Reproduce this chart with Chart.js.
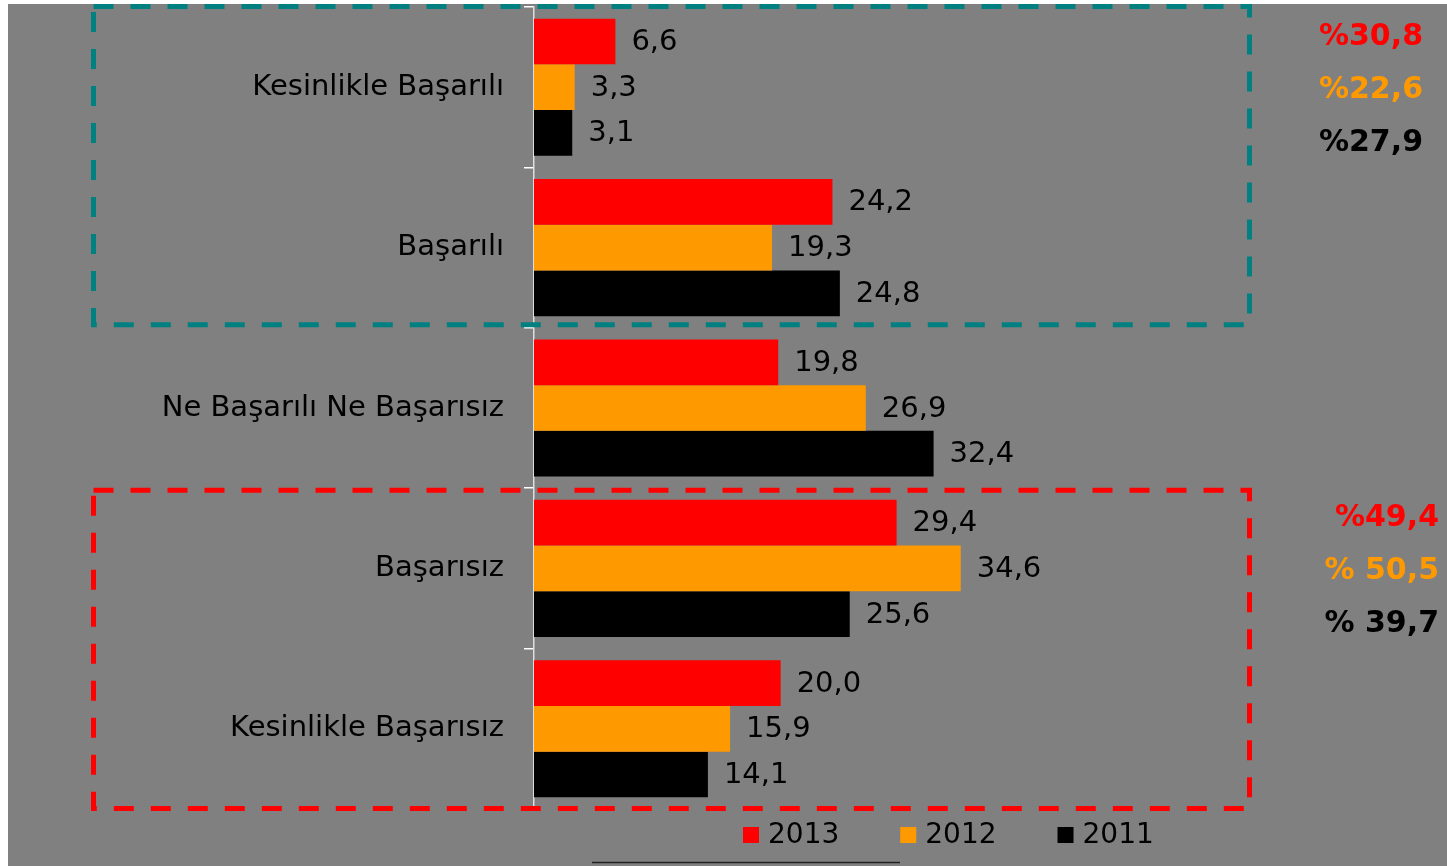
<!DOCTYPE html>
<html>
<head>
<meta charset="utf-8">
<script src="https://cdn.jsdelivr.net/npm/chart.js@4/dist/chart.umd.min.js"></script>
<style>
  html, body { margin: 0; padding: 0; background: #ffffff; width: 1447px; height: 866px; overflow: hidden; }
  #wrap { position: absolute; left: 8px; top: 4px; width: 1439px; height: 862px; background: #808080; }
  canvas { display: block; }
</style>
</head>
<body>
<div id="wrap"><canvas id="c"></canvas></div>
<script>
const categories = ["Kesinlikle Başarılı", "Başarılı", "Ne Başarılı Ne Başarısız", "Başarısız", "Kesinlikle Başarısız"];
const seriesNames = ["2013", "2012", "2011"];
const values2013 = [6.6, 24.2, 19.8, 29.4, 20.0];
const values2012 = [3.3, 19.3, 26.9, 34.6, 15.9];
const values2011 = [3.1, 24.8, 32.4, 25.6, 14.1];
const seriesColors = ["#ff0000", "#ff9900", "#000000"];
// groups summed on the right side (positive: categories 0+1, negative: 3+4)
const topGroup = [0, 1];
const bottomGroup = [3, 4];
const topPrefixes = ["%", "%", "%"];
const bottomPrefixes = ["%", "% ", "% "];

const FONT = "'DejaVu Sans', Verdana, sans-serif";
const fmt = v => v.toFixed(1).replace('.', ',');

const overlay = {
  id: 'overlay',
  afterDatasetsDraw(chart) {
    const ctx = chart.ctx;
    const y = chart.scales.y;
    const area = chart.chartArea;
    const band = (area.bottom - area.top) / categories.length;
    ctx.save();
    // value labels
    ctx.font = "29px " + FONT;
    ctx.fillStyle = "#000";
    ctx.textAlign = "left";
    ctx.textBaseline = "middle";
    chart.data.datasets.forEach((ds, di) => {
      chart.getDatasetMeta(di).data.forEach((bar, i) => {
        ctx.fillText(fmt(ds.data[i]), bar.x + 16, bar.y + 1);
      });
    });
    // dashed boxes
    ctx.lineWidth = 5;
    ctx.setLineDash([20, 17]);
    const boxL = 85.5, boxR = 1241.5;
    const b = k => area.top + band * k;
    ctx.strokeStyle = "#008080";
    ctx.strokeRect(boxL, b(0) - 0.5, boxR - boxL, b(2) - 3 - (b(0) - 0.5));
    ctx.strokeStyle = "#ff0000";
    ctx.strokeRect(boxL, b(3) + 2, boxR - boxL, b(5) - 0.5 - (b(3) + 2));
    ctx.setLineDash([]);
    // summed percentages
    ctx.font = "bold 30px " + FONT;
    ctx.textAlign = "right";
    const offs = [-50, 3, 56];
    const groups = [[topGroup, topPrefixes, 1415, 0], [bottomGroup, bottomPrefixes, 1431, 3]];
    groups.forEach(([idxs, prefixes, xr, cat]) => {
      const cy = y.getPixelForValue(cat);
      chart.data.datasets.forEach((ds, di) => {
        const s = idxs.reduce((a, k) => a + ds.data[k], 0);
        ctx.fillStyle = seriesColors[di];
        ctx.fillText(prefixes[di] + fmt(s), xr, cy + offs[di]);
      });
    });
    // legend
    ctx.font = "28px " + FONT;
    ctx.textAlign = "left";
    let lx = 735;
    const ly = 831;
    chart.data.datasets.forEach((ds, di) => {
      ctx.fillStyle = ds.backgroundColor;
      ctx.fillRect(lx, ly - 8, 16, 16);
      ctx.fillStyle = "#000";
      ctx.fillText(ds.label, lx + 25, ly + 1);
      lx += 25 + ctx.measureText(ds.label).width + 61;
    });
    // underline decoration
    ctx.strokeStyle = "#222";
    ctx.lineWidth = 1.5;
    ctx.beginPath();
    ctx.moveTo(584, 858.5);
    ctx.lineTo(892, 858.5);
    ctx.stroke();
    ctx.restore();
  }
};

new Chart(document.getElementById('c'), {
  type: 'bar',
  data: {
    labels: categories,
    datasets: [
      { label: seriesNames[0], data: values2013, backgroundColor: seriesColors[0] },
      { label: seriesNames[1], data: values2012, backgroundColor: seriesColors[1] },
      { label: seriesNames[2], data: values2011, backgroundColor: seriesColors[2] }
    ]
  },
  options: {
    indexAxis: 'y',
    responsive: true,
    maintainAspectRatio: false,
    animation: false,
    datasets: { bar: { categoryPercentage: 0.855, barPercentage: 1.0, borderWidth: 0 } },
    layout: { padding: { left: 0, right: 173, top: 3, bottom: 57 } },
    plugins: { legend: { display: false }, tooltip: { enabled: false } },
    scales: {
      x: { display: false, min: 0, max: 60 },
      y: {
        ticks: { font: { family: FONT, size: 29 }, color: '#000', padding: 20, autoSkip: false },
        grid: { display: true, drawOnChartArea: false, drawTicks: true, tickLength: 10, color: '#ffffff', lineWidth: 1.5, offset: true },
        border: { display: true, color: '#dedede', width: 1.5 },
        afterFit: s => { s.width = 526; s.paddingTop = 0; s.paddingBottom = 0; }
      }
    }
  },
  plugins: [overlay]
});
</script>
</body>
</html>
